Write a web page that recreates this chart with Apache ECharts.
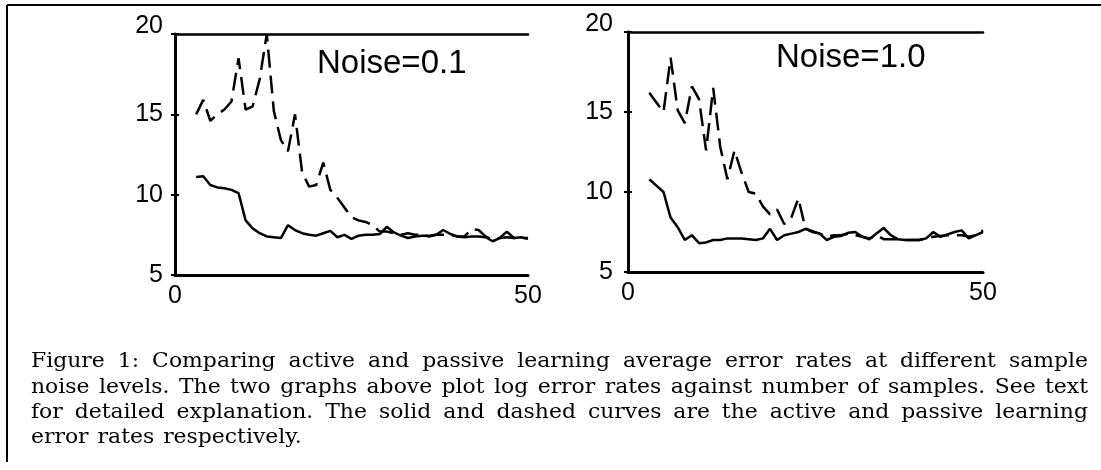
<!DOCTYPE html>
<html>
<head>
<meta charset="utf-8">
<script src="https://cdn.jsdelivr.net/npm/echarts@6/dist/echarts.min.js"></script>
<style>
  html, body { margin: 0; padding: 0; background: #fff; }
  #main { width: 1101px; height: 470px; }
</style>
</head>
<body>
<div id="main"></div>
<script>
// number of samples (x)
var samples = [3, 4, 5, 6, 7, 8, 9, 10, 11, 12, 13, 14, 15, 16, 17, 18, 19, 20, 21, 22, 23, 24, 25, 26,
  27, 28, 29, 30, 31, 32, 33, 34, 35, 36, 37, 38, 39, 40, 41, 42, 43, 44, 45, 46, 47, 48, 49, 50];

// noise = 0.1
var active01 = [11.1, 11.15, 10.6, 10.45, 10.4, 10.3, 10.1, 8.4, 7.9, 7.6, 7.4, 7.35, 7.3, 8.1, 7.8, 7.6,
  7.5, 7.45, 7.6, 7.75, 7.35, 7.5, 7.25, 7.45, 7.5, 7.5, 7.55, 8.0, 7.65, 7.45, 7.3, 7.4, 7.45, 7.45,
  7.5, 7.8, 7.55, 7.4, 7.35, 7.4, 7.4, 7.35, 7.1, 7.3, 7.7, 7.3, 7.35, 7.25];
var passive01 = [15.0, 15.9, 14.6, 15.0, 15.3, 15.8, 18.5, 15.3, 15.5, 17.2, 20.0, 15.2, 13.4, 12.7, 15.0, 11.4,
  10.5, 10.6, 12.0, 10.3, 9.8, 9.2, 8.6, 8.4, 8.3, 8.1, 7.7, 7.7, 7.6, 7.5, 7.6, 7.5, 7.5, 7.4,
  7.5, 7.5, 7.5, 7.4, 7.4, 7.85, 7.8, 7.4, 7.2, 7.3, 7.35, 7.3, 7.3, 7.3];

// noise = 1.0
var active10 = [10.8, 10.4, 10.0, 8.4, 7.8, 7.0, 7.3, 6.8, 6.85, 7.0, 7.0, 7.1, 7.1, 7.1, 7.05, 7.0,
  7.1, 7.7, 7.0, 7.3, 7.4, 7.5, 7.7, 7.55, 7.4, 7.0, 7.2, 7.25, 7.45, 7.5, 7.2, 7.05, 7.4, 7.75,
  7.3, 7.05, 7.0, 7.0, 7.0, 7.1, 7.5, 7.2, 7.35, 7.5, 7.6, 7.1, 7.3, 7.5];
var passive10 = [16.2, 15.6, 15.0, 18.4, 15.1, 14.3, 16.6, 15.8, 12.6, 16.5, 12.8, 10.8, 12.6, 11.2, 10.0, 9.9,
  9.1, 8.6, 8.9, 8.0, 8.4, 9.6, 7.7, 7.5, 7.4, 7.2, 7.3, 7.3, 7.4, 7.3, 7.2, 7.1, 7.3, 7.05,
  7.05, 7.05, 7.0, 7.0, 7.0, 7.1, 7.2, 7.25, 7.3, 7.3, 7.3, 7.2, 7.3, 7.6];

var panelTitles = ['Noise=0.1', 'Noise=1.0'];
var captionLines = [
  'Figure 1: Comparing active and passive learning average error rates at different sample',
  'noise levels. The two graphs above plot log error rates against number of samples. See text',
  'for detailed explanation. The solid and dashed curves are the active and passive learning',
  'error rates respectively.'
];

function pairs(xs, ys) {
  return xs.map(function (x, i) { return [x, ys[i]]; });
}

var grids = [
  { left: 175, top: 34, width: 353, height: 241 },
  { left: 628, top: 32, width: 355, height: 240 }
];

var labelFont = 'Liberation Sans';
var xAxes = [], yAxes = [];
grids.forEach(function (g, i) {
  xAxes.push({
    gridIndex: i, type: 'value', min: 0, max: 50, interval: 50,
    axisLine: { lineStyle: { color: '#000', width: 3 } },
    axisTick: { show: false }, splitLine: { show: false },
    axisLabel: { color: '#000', fontSize: 25, fontFamily: labelFont, margin: 9 }
  });
  xAxes.push({
    gridIndex: i, type: 'value', min: 0, max: 50, position: 'top',
    axisLine: { lineStyle: { color: '#000', width: 2.5 } },
    axisTick: { show: false }, splitLine: { show: false }, axisLabel: { show: false }
  });
  yAxes.push({
    gridIndex: i, type: 'value', min: 5, max: 20, interval: 5,
    axisLine: { show: true, lineStyle: { color: '#000', width: 3 } },
    axisTick: { show: true, inside: true, length: 4, lineStyle: { color: '#000', width: 2 } },
    splitLine: { show: false },
    axisLabel: {
      color: '#000', fontSize: 25, fontFamily: labelFont, margin: i === 0 ? 12 : 15,
      formatter: function (v) { return v === 20 ? '{hi|20}' : String(v); },
      rich: { hi: { fontSize: 25, fontFamily: labelFont, color: '#000', padding: [0, 0, 16, 0] } }
    }
  });
  yAxes.push({
    gridIndex: i, type: 'value', min: 5, max: 20, interval: 5, position: 'right',
    axisLine: { show: true, lineStyle: { color: '#000', width: 2.5 } },
    axisTick: { show: true, inside: true, length: 4, lineStyle: { color: '#000', width: 2 } },
    splitLine: { show: false }, axisLabel: { show: false }
  });
});

function curve(idx, ys, dashed) {
  return {
    type: 'line', xAxisIndex: idx * 2, yAxisIndex: idx * 2,
    data: pairs(samples, ys), symbol: 'none', animation: false,
    lineStyle: { color: '#000', width: 2.5, type: dashed ? [18, 8] : 'solid' }
  };
}

// caption, justified like the printed figure (words stretched a bit, CM is wide)
var capFont = '20px "DejaVu Serif"';
var ctx = document.createElement('canvas').getContext('2d');
ctx.font = capFont;
var capLeft = 31, capRight = 1088;
var capBase = [369, 395, 420, 445];
var wordGap = 13;
var graphics = [
  { type: 'line', shape: { x1: 7, y1: 5, x2: 1101, y2: 5 }, style: { stroke: '#000', lineWidth: 2 } },
  { type: 'line', shape: { x1: 7, y1: 5, x2: 7, y2: 462 }, style: { stroke: '#000', lineWidth: 2 } }
];
function measureLine(line) {
  var words = line.split(' ');
  var widths = words.map(function (w) { return ctx.measureText(w).width; });
  var total = widths.reduce(function (a, b) { return a + b; }, 0);
  return { words: words, widths: widths, total: total };
}
var first = measureLine(captionLines[0]);
var sx = (capRight - capLeft - wordGap * (first.words.length - 1)) / first.total;
captionLines.forEach(function (line, li) {
  var m = measureLine(line);
  var last = li === captionLines.length - 1;
  var gap = last ? 9 : (capRight - capLeft - m.total * sx) / (m.words.length - 1);
  var x = capLeft;
  m.words.forEach(function (w, i) {
    graphics.push({
      type: 'text', x: x, y: capBase[li] - 7, scaleX: sx,
      style: { text: w, font: capFont, fill: '#000', verticalAlign: 'middle' }
    });
    x += m.widths[i] * sx + gap;
  });
});

var chart = echarts.init(document.getElementById('main'));
chart.setOption({
  backgroundColor: '#fff',
  animation: false,
  title: [
    { text: panelTitles[0], left: 317, top: 47, padding: 0,
      textStyle: { fontSize: 33, fontWeight: 'normal', fontFamily: labelFont, color: '#000' } },
    { text: panelTitles[1], left: 776, top: 41, padding: 0,
      textStyle: { fontSize: 33, fontWeight: 'normal', fontFamily: labelFont, color: '#000' } }
  ],
  grid: grids,
  xAxis: xAxes,
  yAxis: yAxes,
  series: [
    curve(0, passive01, true),
    curve(0, active01, false),
    curve(1, passive10, true),
    curve(1, active10, false)
  ],
  graphic: graphics
});
</script>
</body>
</html>
